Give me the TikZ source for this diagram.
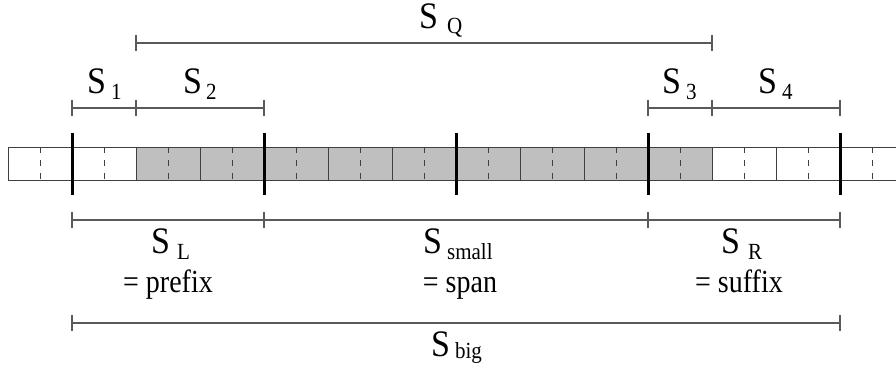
\documentclass[tikz,border=0pt]{standalone}
\usepackage{fontspec}
\setmainfont{Liberation Serif}
\newcommand{\Slab}[3]{\scalebox{1}[1.1]{{\fontsize{34}{34}\selectfont S}\kern#1pt\raisebox{-#2pt}{\fontsize{21}{21}\selectfont #3}}}
\newcommand{\Eqtext}[1]{\scalebox{1}[1.15]{#1}}
\begin{document}
\begin{tikzpicture}[x=1pt,y=-1pt,
  cellline/.style={draw=black!75,line width=1pt},
  dashline/.style={draw=black!75,line width=1pt,dash pattern=on 6pt off 7pt},
  bar/.style={draw=black,line width=3pt},
  spanline/.style={draw=black!65,line width=1.1pt},
  lab/.style={anchor=base west,inner sep=0pt},
  eqlab/.style={anchor=base,inner sep=0pt,font=\fontsize{28}{28}\selectfont}]
\useasboundingbox (0,0) rectangle (896,376);
% array
\fill[black!25] (136,147) rectangle (712,180);
\foreach \x in {40,104,...,872} \draw[dashline] (\x,147) -- (\x,180);
\foreach \x in {8,136,200,328,392,520,584,712,776} \draw[cellline] (\x,147) -- (\x,180);
\draw[cellline] (8,147) -- (896,147);
\draw[cellline] (8,180) -- (896,180);
\foreach \x in {72,264,456,648,840} \draw[bar] (\x,133) -- (\x,195);
% interval coordinates
\coordinate (q1) at (136,43); \coordinate (q2) at (712,43);
\coordinate (a1) at (72,108); \coordinate (a2) at (136,108); \coordinate (a3) at (264,108);
\coordinate (b1) at (648,108); \coordinate (b2) at (712,108); \coordinate (b3) at (840,108);
\coordinate (c1) at (72,220); \coordinate (c2) at (264,220); \coordinate (c3) at (648,220); \coordinate (c4) at (840,220);
\coordinate (d1) at (72,323); \coordinate (d2) at (840,323);
\draw[spanline] (q1) -- (q2);
\draw[spanline] (a1) -- (a2) -- (a3);
\draw[spanline] (b1) -- (b2) -- (b3);
\draw[spanline] (c1) -- (c2) -- (c3) -- (c4);
\draw[spanline] (d1) -- (d2);
\foreach \c in {q1,q2,a1,a2,a3,b1,b2,b3,c1,c2,c3,c4,d1,d2}
  \draw[spanline] ([yshift=8pt]\c) -- ([yshift=-8pt]\c);
% labels
\node[lab] (lq) at (419,28) {\Slab{9}{5}{Q}};
\node[lab] (l1) at (87,93) {\Slab{5}{6}{1}};
\node[lab] (l2) at (183,93) {\Slab{4}{6}{2}};
\node[lab] (l3) at (662,93) {\Slab{5}{6}{3}};
\node[lab] (l4) at (758,93) {\Slab{5}{6}{4}};
\node[lab] (lL) at (151,253) {\Slab{7}{6}{L}};
\node[lab] (ls) at (423,253) {\Slab{5}{6}{small}};
\node[lab] (lR) at (721,253) {\Slab{8}{6}{R}};
\node[lab] (lb) at (431,356) {\Slab{5}{2}{big}};
\node[eqlab] (eL) at (168,292) {\Eqtext{= prefix}};
\node[eqlab] (es) at (460,292) {\Eqtext{= span}};
\node[eqlab] (eR) at (739,292) {\Eqtext{= suffix}};
\end{tikzpicture}
\end{document}
